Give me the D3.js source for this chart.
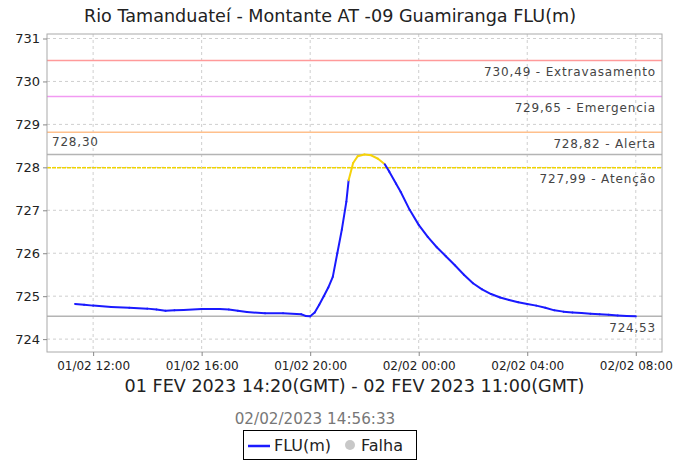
<!DOCTYPE html>
<html>
<head>
<meta charset="utf-8">
<script src="https://cdn.jsdelivr.net/npm/d3@7"></script>
<style>
  body { margin: 0; background: #fff; }
  svg { font-family: "DejaVu Sans", sans-serif; display: block; }
</style>
</head>
<body>
<svg id="viz" width="676" height="461"></svg>
<script>
// readings (local time, GMT-3) and level in metres
const times = [
  "01/02 11:20", "01/02 11:40", "01/02 12:00", "01/02 12:40", "01/02 13:20", "01/02 14:00",
  "01/02 14:20", "01/02 14:40", "01/02 15:00", "01/02 15:20", "01/02 16:00", "01/02 16:40",
  "01/02 17:00", "01/02 17:20", "01/02 17:40", "01/02 18:20", "01/02 19:00", "01/02 19:40",
  "01/02 19:50", "01/02 20:00", "01/02 20:10", "01/02 20:20", "01/02 20:30", "01/02 20:40",
  "01/02 20:50", "01/02 21:00", "01/02 21:10", "01/02 21:20", "01/02 21:25", "01/02 21:35",
  "01/02 21:45", "01/02 22:00", "01/02 22:15", "01/02 22:30", "01/02 22:45", "01/02 22:55",
  "01/02 23:10", "01/02 23:20", "01/02 23:40", "02/02 00:00", "02/02 00:20", "02/02 00:40",
  "02/02 01:00", "02/02 01:20", "02/02 01:40", "02/02 02:00", "02/02 02:20", "02/02 02:40",
  "02/02 03:00", "02/02 03:20", "02/02 03:40", "02/02 04:00", "02/02 04:20", "02/02 04:40",
  "02/02 05:00", "02/02 05:20", "02/02 05:40", "02/02 06:00", "02/02 06:20", "02/02 06:40",
  "02/02 07:00", "02/02 07:20", "02/02 07:40", "02/02 08:00"
];
const levels = [
  724.82, 724.80, 724.78, 724.75, 724.73, 724.71,
  724.69, 724.66, 724.67, 724.68, 724.70, 724.70,
  724.69, 724.66, 724.63, 724.60, 724.60, 724.58,
  724.54, 724.53, 724.62, 724.80, 725.00, 725.20,
  725.45, 726.00, 726.55, 727.20, 727.70, 728.10,
  728.26, 728.30, 728.28, 728.20, 728.07, 727.90,
  727.62, 727.43, 727.01, 726.66, 726.38, 726.14,
  725.93, 725.72, 725.50, 725.30, 725.16, 725.05,
  724.97, 724.91, 724.86, 724.82, 724.78, 724.73,
  724.67, 724.64, 724.62, 724.61, 724.59, 724.58,
  724.57, 724.55, 724.54, 724.53
];

// alert levels
const thresholdValues = [730.49, 729.65, 728.82, 727.99];
const thresholdNames = ["Extravasamento", "Emergencia", "Alerta", "Atenção"];
const thresholdColors = ["#ff9a9a", "#f29af2", "#ffc08c", "#f0d400"];

const yTicks = [724, 725, 726, 727, 728, 729, 730, 731];
const xDomain = ["01/02 10:18", "02/02 08:58"];

const title = "Rio Tamanduateí - Montante AT -09 Guamiranga FLU(m)";
const xLabel = "01 FEV 2023 14:20(GMT) - 02 FEV 2023 11:00(GMT)";
const subtitle = "02/02/2023 14:56:33";

const parse = s => {
  const [d, m] = s.slice(0, 5).split("/").map(Number);
  const [h, mi] = s.slice(6).split(":").map(Number);
  return new Date(Date.UTC(2023, m - 1, d, h, mi));
};
const fmtNum = v => v.toFixed(2).replace(".", ",");

const data = times.map((t, i) => ({ t: parse(t), v: levels[i] }));

const svg = d3.select("#viz");
const plot = { left: 47, right: 662, top: 34, bottom: 352 };

const x = d3.scaleUtc()
  .domain(xDomain.map(parse))
  .range([plot.left, plot.right]);
const y = d3.scaleLinear()
  .domain([723.70, 731.105])
  .range([plot.bottom, plot.top]);

const xTicks = x.ticks(d3.utcHour.every(4));

// title
svg.append("text")
  .attr("x", 330).attr("y", 22)
  .attr("text-anchor", "middle")
  .attr("font-size", "17.6px")
  .attr("fill", "#222")
  .text(title);

// grid
const grid = svg.append("g");
grid.selectAll(".hg").data(yTicks).join("line")
  .attr("x1", plot.left).attr("x2", plot.right)
  .attr("y1", d => y(d)).attr("y2", d => y(d))
  .attr("stroke", "#cfcfcf").attr("stroke-dasharray", "3,3");
grid.selectAll(".vg").data(xTicks).join("line")
  .attr("x1", d => x(d)).attr("x2", d => x(d))
  .attr("y1", plot.top).attr("y2", plot.bottom)
  .attr("stroke", "#cfcfcf").attr("stroke-dasharray", "3,3");

// threshold lines + labels
thresholdValues.forEach((v, i) => {
  svg.append("line")
    .attr("x1", plot.left).attr("x2", plot.right)
    .attr("y1", y(v)).attr("y2", y(v))
    .attr("stroke", thresholdColors[i])
    .attr("stroke-width", 1.5)
    .attr("stroke-dasharray", i === 3 ? "4,1" : null);
  svg.append("text")
    .attr("x", 656).attr("y", y(v) + 15.5)
    .attr("text-anchor", "end")
    .attr("font-size", "12px")
    .attr("letter-spacing", "0.85px")
    .attr("fill", "#444")
    .text(`${fmtNum(v)} - ${thresholdNames[i]}`);
});

// max / min markers
const vmax = d3.max(levels), vmin = d3.min(levels);
[vmax, vmin].forEach(v => {
  svg.append("line")
    .attr("x1", plot.left).attr("x2", plot.right)
    .attr("y1", y(v)).attr("y2", y(v))
    .attr("stroke", "#b4b4b4").attr("stroke-width", 1.5);
});
svg.append("text")
  .attr("x", 52).attr("y", y(vmax) - 8)
  .attr("font-size", "12px").attr("letter-spacing", "0.8px")
  .attr("fill", "#444").text(fmtNum(vmax));
svg.append("text")
  .attr("x", 656).attr("y", y(vmin) + 16)
  .attr("text-anchor", "end")
  .attr("font-size", "12px").attr("letter-spacing", "0.8px")
  .attr("fill", "#444").text(fmtNum(vmin));

// series, segment yellow when it ends above the attention level
const attention = thresholdValues[3];
const segs = svg.append("g").attr("fill", "none")
  .attr("stroke-width", 2).attr("stroke-linecap", "round");
for (let i = 0; i < data.length - 1; i++) {
  segs.append("line")
    .attr("x1", x(data[i].t)).attr("y1", y(data[i].v))
    .attr("x2", x(data[i + 1].t)).attr("y2", y(data[i + 1].v))
    .attr("stroke", data[i + 1].v >= attention ? "#f5d20a" : "#1a1aff");
}

// plot outline
svg.append("rect")
  .attr("x", plot.left).attr("y", plot.top)
  .attr("width", plot.right - plot.left).attr("height", plot.bottom - plot.top)
  .attr("fill", "none").attr("stroke", "#aaa");

// axes
const yAxis = svg.append("g")
  .attr("transform", `translate(${plot.left},0)`)
  .call(d3.axisLeft(y).tickValues(yTicks).tickSize(4).tickPadding(3).tickFormat(d3.format("d")));
const xAxis = svg.append("g")
  .attr("transform", `translate(0,${plot.bottom})`)
  .call(d3.axisBottom(x).tickValues(xTicks).tickSize(4).tickPadding(5).tickFormat(d3.utcFormat("%d/%m %H:%M")));
[yAxis, xAxis].forEach(a => {
  a.select(".domain").remove();
  a.selectAll(".tick line").attr("stroke", "#888");
  a.selectAll(".tick text").attr("fill", "#222")
    .attr("font-family", "DejaVu Sans, sans-serif");
});
yAxis.selectAll(".tick text").attr("font-size", "13px");
xAxis.selectAll(".tick text").attr("font-size", "12px");

svg.append("text")
  .attr("x", (plot.left + plot.right) / 2).attr("y", 392)
  .attr("text-anchor", "middle")
  .attr("font-size", "17.6px").attr("fill", "#222")
  .text(xLabel);

svg.append("text")
  .attr("x", 315).attr("y", 424)
  .attr("text-anchor", "middle")
  .attr("font-size", "15.2px").attr("fill", "#777")
  .text(subtitle);

// legend
const lg = svg.append("g");
lg.append("rect")
  .attr("x", 243.5).attr("y", 430.5).attr("width", 173).attr("height", 29)
  .attr("fill", "#fff").attr("stroke", "#000");
lg.append("line")
  .attr("x1", 248).attr("x2", 270).attr("y1", 446).attr("y2", 446)
  .attr("stroke", "#1a1aff").attr("stroke-width", 2.5);
lg.append("text")
  .attr("x", 274).attr("y", 451)
  .attr("font-size", "16px").attr("fill", "#222").text("FLU(m)");
lg.append("circle")
  .attr("cx", 350).attr("cy", 445).attr("r", 5).attr("fill", "#c8c8c8");
lg.append("text")
  .attr("x", 361).attr("y", 451)
  .attr("font-size", "16px").attr("fill", "#222").text("Falha");
</script>
</body>
</html>
